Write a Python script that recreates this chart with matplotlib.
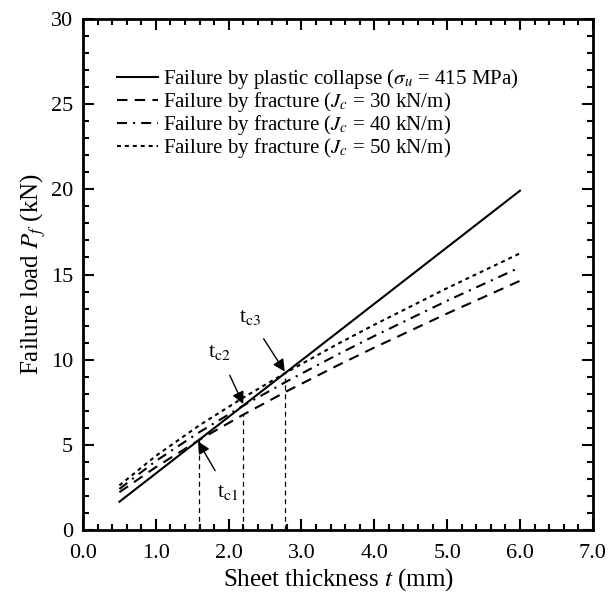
import numpy as np
import matplotlib
matplotlib.use("Agg")
import matplotlib.pyplot as plt

plt.rcParams['font.family'] = 'Liberation Serif'
plt.rcParams['mathtext.fontset'] = 'stix'

# plastic collapse line
t_pc = [0.5, 6.0]
p_pc = [1.66, 19.92]

# fracture curves
t_fr = [0.5, 1.0, 1.6, 2.2, 2.8, 3.5, 4.0, 5.0, 6.0]
p_j30 = [2.22, 3.69, 5.30, 6.77, 8.15, 9.67, 10.71, 12.71, 14.63]
p_j40 = [2.41, 4.05, 5.75, 7.30, 8.73, 10.31, 11.39, 13.46, 15.42]
p_j50 = [2.62, 4.35, 6.15, 7.77, 9.27, 10.93, 12.05, 14.20, 16.24]

# critical thicknesses and top of the drop lines
tc = [1.59, 2.2, 2.77]
tc_top = [5.28, 6.8, 8.9]
tc_names = ["t$_{\\rm c1}$", "t$_{\\rm c2}$", "t$_{\\rm c3}$"]

fig = plt.figure(figsize=(6.12, 5.98), dpi=100)
ax = fig.add_axes([0.1356, 0.1137, 0.833, 0.8545])

ax.plot(t_pc, p_pc, color='k', lw=1.5,
        label='Failure by plastic collapse ($\\sigma_u$ = 415 MPa)')
ax.plot(t_fr, p_j30, color='k', lw=1.5, dashes=(5, 3.5),
        label='Failure by fracture ($J_c$ = 30 kN/m)')
ax.plot(t_fr, p_j40, color='k', lw=1.5, dashes=(4.8, 2.9, 1, 2.9),
        label='Failure by fracture ($J_c$ = 40 kN/m)')
ax.plot(t_fr, p_j50, color='k', lw=1.5, dashes=(1.9, 1.9),
        label='Failure by fracture ($J_c$ = 50 kN/m)')

for x, top in zip(tc, tc_top):
    ax.plot([x, x], [0, top], color='k', lw=0.9, dashes=(4, 3))

# arrows with labels
arrow = dict(arrowstyle='-|>', color='k', lw=1.0,
             mutation_scale=18, shrinkA=8, shrinkB=0)
ax.annotate(tc_names[0], xy=(1.58, 5.2), xytext=(1.99, 2.2),
            ha='center', va='center', fontsize=16, arrowprops=arrow)
ax.annotate(tc_names[1], xy=(2.2, 7.4), xytext=(1.87, 10.4),
            ha='center', va='center', fontsize=16, arrowprops=arrow)
ax.annotate(tc_names[2], xy=(2.77, 9.3), xytext=(2.29, 12.5),
            ha='center', va='center', fontsize=16, arrowprops=arrow)

ax.set_xlim(0, 7)
ax.set_ylim(0, 30)
ax.set_xticks(np.arange(0, 7.1, 1.0))
ax.set_xticklabels(["%.1f" % v for v in np.arange(0, 7.1, 1.0)])
ax.set_yticks(np.arange(0, 31, 5))
ax.set_xticks(np.arange(0, 7.01, 0.2), minor=True)
ax.set_yticks(np.arange(0, 31, 1), minor=True)
ax.tick_params(which='both', direction='in', top=True, right=True,
               width=1.5, labelsize=16)
ax.tick_params(which='major', length=8)
ax.tick_params(which='minor', length=4)
ax.tick_params(axis='x', pad=10)
ax.tick_params(axis='y', pad=7)
for s in ax.spines.values():
    s.set_linewidth(2)

ax.set_xlabel('Sheet thickness $t$ (mm)', fontsize=18, labelpad=2)
ax.set_ylabel('Failure load $P_f$ (kN)', fontsize=18)
ax.yaxis.set_label_coords(-0.068, 0.5)

ax.legend(loc='upper left', bbox_to_anchor=(0.051, 0.922), frameon=False,
          fontsize=15, handlelength=1.97, handletextpad=0.2,
          labelspacing=-0.05, borderaxespad=0)

fig.savefig('out.png', dpi=100)
